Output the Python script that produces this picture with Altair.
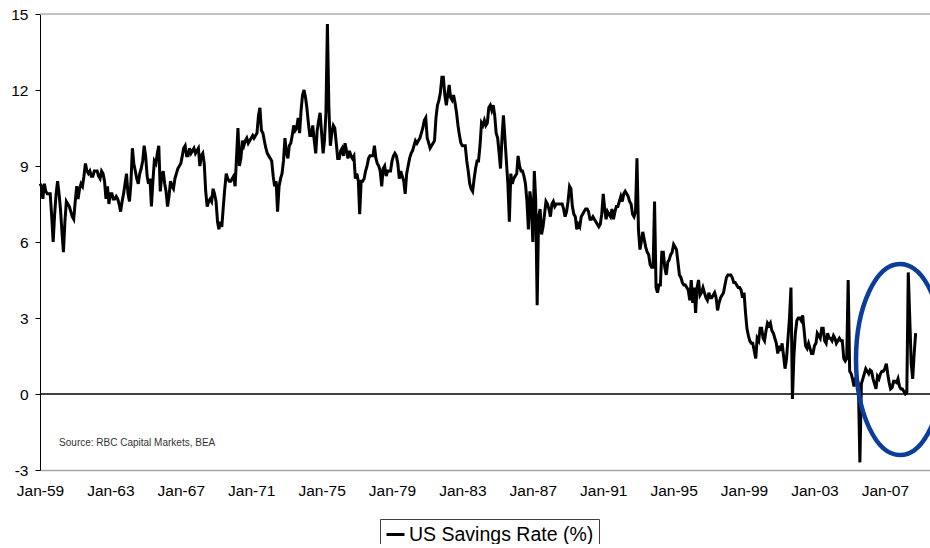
import altair as alt
import pandas as pd

START = "1959-01-01"
SERIES = "US Savings Rate (%)"
SOURCE = "Source: RBC Capital Markets, BEA"
FONT = "Liberation Sans, Arial, sans-serif"

# Monthly US personal savings rate (%)
rate_1959_1968 = [
    8.3, 8.2, 7.7, 8.3, 8.0, 7.9, 7.9, 7.9, 7.0, 6.0, 7.1, 7.9,      # 1959
    8.4, 7.9, 7.3, 6.4, 5.6, 6.8, 7.6, 7.5, 7.4, 7.2, 7.0, 6.9,      # 1960
    7.6, 8.2, 7.7, 8.1, 8.3, 8.2, 8.6, 9.1, 8.8, 8.7, 8.8, 8.6,      # 1961
    8.6, 8.8, 8.8, 8.8, 8.6, 8.5, 8.8, 8.7, 8.4, 7.7, 8.2, 7.5,      # 1962
    7.9, 7.9, 7.7, 7.7, 7.8, 7.7, 7.5, 7.2, 7.6, 7.9, 8.3, 8.7,      # 1963
    7.9, 7.6, 8.3, 9.7, 9.1, 8.8, 8.5, 8.3, 8.7, 8.9, 9.2, 9.8,      # 1964
    9.4, 8.6, 8.3, 8.5, 7.4, 8.4, 9.2, 9.1, 9.5, 9.8, 8.0, 8.6,      # 1965
    8.8, 8.3, 8.0, 7.4, 7.8, 8.4, 8.2, 8.1, 8.5, 8.7, 8.9, 9.0,      # 1966
    9.1, 9.4, 9.7, 9.8, 9.4, 9.4, 9.7, 9.5, 9.6, 9.7, 9.5, 9.6,      # 1967
    9.7, 9.0, 9.4, 9.5, 9.1, 8.0, 7.4, 7.6, 7.7, 7.6, 8.1, 7.9,      # 1968
]
rate_1969_1978 = [
    7.6, 6.8, 6.5, 6.8, 6.6, 7.4, 8.1, 8.7, 8.5, 8.4, 8.4, 8.5,      # 1969
    8.6, 8.2, 9.3, 10.5, 9.0, 9.3, 10.0, 9.8, 10.0, 10.1, 9.9, 10.0, # 1970
    10.1, 10.2, 10.1, 10.2, 10.3, 11.0, 11.3, 10.4, 10.3, 10.0, 9.7, 9.5,  # 1971
    9.4, 9.3, 9.2, 8.6, 8.2, 8.4, 7.2, 8.2, 8.5, 8.7, 9.2, 10.1,     # 1972
    9.5, 9.3, 9.8, 9.9, 10.2, 10.6, 10.4, 10.5, 10.9, 10.3, 11.2, 11.8,    # 1973
    12.0, 11.7, 11.3, 10.7, 10.2, 10.2, 10.6, 10.0, 9.5, 10.4, 10.8, 11.1, # 1974
    10.3, 9.5, 10.0, 11.1, 14.6, 11.3, 9.8, 10.3, 10.6, 10.5, 9.9, 9.3,    # 1975
    9.3, 9.6, 9.7, 9.4, 9.9, 9.6, 9.3, 9.6, 9.4, 9.3, 9.4, 8.5,      # 1976
    8.7, 8.4, 7.1, 8.4, 8.4, 8.5, 8.8, 9.0, 9.3, 9.4, 9.4, 9.4,      # 1977
    9.8, 9.3, 9.1, 9.0, 8.8, 8.2, 8.9, 9.0, 8.6, 8.8, 8.8, 8.8,      # 1978
]
rate_1979_1988 = [
    9.2, 9.4, 9.5, 9.4, 9.1, 8.5, 8.8, 8.6, 8.4, 7.9, 8.7, 9.0,      # 1979
    9.3, 9.5, 9.6, 9.8, 10.0, 9.9, 10.0, 10.1, 10.3, 10.5, 10.8, 10.9,     # 1980
    10.1, 9.9, 9.7, 9.8, 9.9, 10.0, 10.9, 11.4, 11.6, 11.9, 12.5, 12.5,    # 1981
    11.8, 11.4, 11.8, 12.2, 11.7, 11.6, 11.8, 11.5, 11.1, 10.6, 10.2, 9.9, # 1982
    9.8, 9.8, 9.8, 9.2, 8.8, 8.3, 8.1, 8.0, 8.5, 8.9, 9.2, 9.2,      # 1983
    9.8, 10.7, 10.6, 10.8, 10.6, 10.7, 11.3, 11.4, 11.2, 11.4, 11.0, 10.3, # 1984
    10.1, 9.5, 8.9, 10.1, 11.0, 10.1, 9.2, 8.3, 6.8, 8.7, 8.3, 8.5,  # 1985
    8.6, 8.7, 9.4, 9.0, 8.8, 8.8, 8.6, 8.3, 7.6, 6.5, 8.0, 7.5,      # 1986
    6.0, 8.8, 7.7, 3.5, 7.0, 7.3, 6.3, 6.6, 7.1, 7.6, 7.5, 7.3,      # 1987
    7.0, 7.5, 7.6, 7.4, 7.5, 7.5, 7.5, 7.5, 7.5, 7.3, 7.0, 7.2,      # 1988
]
rate_1989_1998 = [
    7.6, 8.2, 8.1, 7.4, 7.1, 7.0, 6.5, 6.7, 6.6, 7.0, 7.1, 7.2,      # 1989
    7.3, 7.3, 7.2, 6.9, 6.9, 7.0, 6.9, 6.8, 6.7, 6.6, 6.7, 7.1,      # 1990
    7.9, 7.3, 6.9, 7.2, 7.1, 7.0, 7.3, 6.9, 7.2, 7.4, 7.4, 7.6,      # 1991
    7.8, 7.6, 7.9, 8.0, 7.9, 7.8, 7.6, 7.5, 7.1, 7.0, 7.2, 9.3,      # 1992
    6.5, 5.7, 6.0, 6.4, 6.1, 5.8, 5.6, 5.5, 5.1, 5.0, 5.0, 7.6,      # 1993
    4.2, 4.0, 4.3, 4.3, 5.6, 5.6, 5.0, 4.7, 5.2, 5.3, 5.5, 5.6,      # 1994
    5.9, 5.8, 5.7, 5.2, 4.7, 4.6, 4.4, 4.3, 4.3, 4.2, 4.1, 3.7,      # 1995
    4.5, 3.6, 4.2, 3.2, 4.2, 4.5, 3.9, 4.0, 4.2, 4.0, 3.8, 3.7,      # 1996
    4.0, 3.8, 3.8, 3.9, 4.0, 3.8, 3.3, 3.6, 3.8, 3.9, 4.0, 4.3,      # 1997
    4.6, 4.7, 4.7, 4.7, 4.6, 4.4, 4.4, 4.3, 4.2, 4.2, 4.1, 3.8,      # 1998
]
rate_1999_2008 = [
    4.0, 3.2, 2.6, 2.3, 2.1, 2.0, 2.0, 1.7, 1.4, 2.2, 2.1, 2.6,      # 1999
    2.6, 2.2, 2.1, 2.5, 2.8, 2.7, 2.8, 2.5, 2.4, 2.2, 2.0, 1.6,      # 2000
    1.9, 1.7, 2.0, 1.5, 1.0, 1.4, 2.2, 3.0, 4.2, -0.2, 1.5, 2.4,     # 2001
    2.9, 3.0, 3.0, 2.9, 3.1, 2.5, 1.9, 1.8, 2.0, 1.8, 1.6, 1.6,      # 2002
    1.9, 2.0, 2.4, 2.3, 2.2, 2.6, 2.6, 2.1, 2.0, 2.4, 2.2, 2.2,      # 2003
    2.1, 2.3, 2.2, 2.0, 2.1, 2.2, 2.1, 2.1, 1.4, 1.3, 1.4, 4.5,      # 2004
    0.9, 0.8, 0.6, 0.3, 0.6, 0.6, 0.4, -2.7, 0.4, 0.6, 0.8, 1.0,     # 2005
    0.9, 0.8, 0.95, 0.9, 0.6, 0.4, 0.2, 0.7, 0.6, 0.8, 0.9, 0.9,     # 2006
    1.0, 1.2, 0.8, 0.45, 0.2, 0.25, 0.5, 0.5, 0.45, 0.6, 0.3, 0.2,   # 2007
    0.2, 0.1, 0.0, 0.05, 4.8, 3.0, 1.2, 0.6, 1.6, 2.4,               # 2008
]

values = rate_1959_1968 + rate_1969_1978 + rate_1979_1988 + rate_1989_1998 + rate_1999_2008

tick_years = list(range(1959, 2008, 4))
y_ticks = [-3, 0, 3, 6, 9, 12, 15]

# annotation positions (data coordinates)
source_at = ["1960-02-01", -1.93]
ellipse_at = ["2007-11-12", 1.36]
ellipse_shape = ("M 0,-1 C 0.2546,-1 0.461,-0.5523 0.461,0 C 0.461,0.5523 0.2546,1 0,1 "
                 "C -0.2546,1 -0.461,0.5523 -0.461,0 C -0.461,-0.5523 -0.2546,-1 0,-1 Z")

df = pd.DataFrame({
    "date": pd.date_range(START, periods=len(values), freq="MS"),
    "rate": values,
    "series": SERIES,
})

x_scale = alt.Scale(domain=[alt.DateTime(year=1959, month=1, date=1),
                            alt.DateTime(year=2009, month=7, date=26)])
y_scale = alt.Scale(domain=[-3, 15], nice=False, zero=False)

x_axis = alt.Axis(
    values=[alt.DateTime(year=y, month=1, date=1) for y in tick_years],
    format="%b-%y", title=None, grid=False, ticks=False, tickSize=0,
    labelPadding=13, labelFontSize=15.5, labelFlush=False, labelFont=FONT,
    labelColor="black", domainColor="#a6a6a6", domainWidth=1.5,
)
y_axis = alt.Axis(
    values=y_ticks, title=None, grid=False, tickSize=5, tickColor="black",
    domainColor="black", domainWidth=1, labelPadding=7, labelFontSize=15.5,
    labelFont=FONT, labelColor="black", labelExpr="'' + datum.value",
)

zero_rule = alt.Chart(pd.DataFrame({"v": [0]})).mark_rule(
    color="black", strokeWidth=1.4
).encode(y=alt.Y("v:Q", scale=y_scale, axis=y_axis))

top_rule = alt.Chart(pd.DataFrame({"v": [15]})).mark_rule(
    color="#b3b3b3", strokeWidth=1.5
).encode(y=alt.Y("v:Q", scale=y_scale))

line = alt.Chart(df).mark_line(strokeWidth=3).encode(
    x=alt.X("date:T", scale=x_scale, axis=x_axis),
    y=alt.Y("rate:Q", scale=y_scale, axis=y_axis),
    color=alt.Color(
        "series:N",
        scale=alt.Scale(range=["black"]),
        legend=alt.Legend(
            orient="none", legendX=340, legendY=505, title=None,
            labelFontSize=19.5, labelFont=FONT, labelColor="black",
            labelLimit=400,
            symbolType="stroke", symbolStrokeWidth=3, symbolSize=324,
            labelOffset=3, padding=5, strokeColor="#404040",
            fillColor="white", cornerRadius=0,
        ),
    ),
)

source = alt.Chart(pd.DataFrame({"d": [source_at[0]], "v": [source_at[1]], "t": [SOURCE]})).mark_text(
    align="left", baseline="middle", fontSize=10, font=FONT, color="#333333"
).encode(x=alt.X("d:T", scale=x_scale), y=alt.Y("v:Q", scale=y_scale), text="t:N")

ellipse = alt.Chart(pd.DataFrame({"d": [ellipse_at[0]], "v": [ellipse_at[1]]})).mark_point(
    shape=ellipse_shape, size=36481, filled=False, stroke="#0b3d9a",
    strokeWidth=4.5, opacity=1
).encode(x=alt.X("d:T", scale=x_scale), y=alt.Y("v:Q", scale=y_scale))

chart = alt.layer(zero_rule, top_rule, line, source, ellipse).properties(
    width=890, height=456,
    autosize=alt.AutoSizeParams(type="none"),
    padding={"left": 40, "top": 14, "right": 0, "bottom": 74},
).configure_view(stroke=None).configure(font=FONT)

chart.save("out.html", embed_options={"renderer": "svg", "actions": False})
